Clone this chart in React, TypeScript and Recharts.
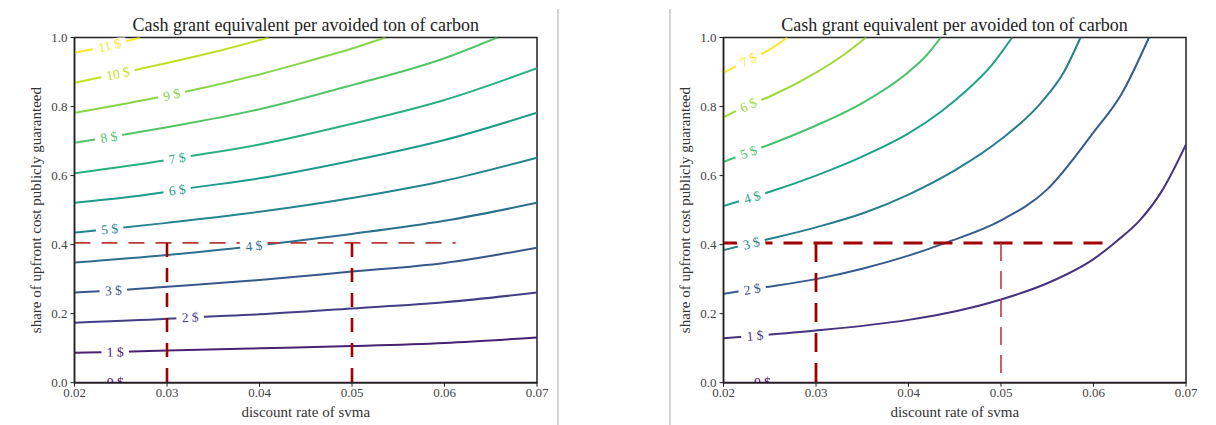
import { LineChart, Line, XAxis, YAxis, ReferenceArea } from 'recharts'

// axes
const xTicks = [0.02, 0.03, 0.04, 0.05, 0.06, 0.07]
const yTicks = [0, 0.2, 0.4, 0.6, 0.8, 1]

// left panel: contour levels 0..11 $, points are [discount rate, share guaranteed]
const left0 = [[0.02, 0], [0.0244, 0], [0.07, 0]]
const left1 = [[0.02, 0.087], [0.0244, 0.089], [0.03, 0.093], [0.04, 0.0995], [0.05, 0.106], [0.06, 0.115], [0.07, 0.131]]
const left2 = [[0.02, 0.174], [0.03, 0.185], [0.0325, 0.189], [0.04, 0.198], [0.05, 0.215], [0.06, 0.233], [0.07, 0.261]]
const left3 = [[0.02, 0.261], [0.0242, 0.267], [0.03, 0.278], [0.04, 0.2975], [0.05, 0.322], [0.06, 0.347], [0.07, 0.391]]
const left4 = [[0.02, 0.348], [0.03, 0.37], [0.0394, 0.396], [0.04, 0.398], [0.05, 0.431], [0.06, 0.469], [0.07, 0.521]]
const left5 = [[0.02, 0.435], [0.0238, 0.445], [0.03, 0.463], [0.04, 0.495], [0.05, 0.535], [0.06, 0.585], [0.07, 0.652]]
const left6 = [[0.02, 0.521], [0.03, 0.553], [0.0311, 0.558], [0.04, 0.592], [0.05, 0.643], [0.06, 0.703], [0.07, 0.782]]
const left7 = [[0.02, 0.607], [0.03, 0.645], [0.0311, 0.65], [0.04, 0.69], [0.05, 0.75], [0.06, 0.819], [0.07, 0.911]]
const left8 = [[0.02, 0.695], [0.0237, 0.711], [0.03, 0.74], [0.04, 0.792], [0.05, 0.862], [0.06, 0.94], [0.0657, 1]]
const left9 = [[0.02, 0.782], [0.025, 0.806], [0.0305, 0.834], [0.04, 0.893], [0.0444, 0.925], [0.05, 0.968], [0.0536, 1]]
const left10 = [[0.02, 0.869], [0.0247, 0.895], [0.03, 0.926], [0.035, 0.957], [0.041, 1]]
const left11 = [[0.02, 0.956], [0.0238, 0.977], [0.0271, 1]]
const leftLabelX = [0.0244, 0.0244, 0.0325, 0.0242, 0.0394, 0.0238, 0.0311, 0.0311, 0.0237, 0.0305, 0.0247, 0.0238]

// right panel: contour levels 0..7 $
const right0 = [[0.02, 0], [0.0242, 0], [0.07, 0]]
const right1 = [[0.02, 0.129], [0.0234, 0.136], [0.03, 0.151], [0.04, 0.182], [0.0435, 0.198], [0.05, 0.241], [0.055, 0.288], [0.06, 0.358], [0.0625, 0.41], [0.065, 0.47], [0.0675, 0.56], [0.07, 0.69]]
const right2 = [[0.02, 0.257], [0.0231, 0.271], [0.03, 0.3], [0.035, 0.33], [0.04, 0.368], [0.044, 0.405], [0.05, 0.47], [0.055, 0.56], [0.06, 0.725], [0.063, 0.835], [0.066, 1]]
const right3 = [[0.02, 0.384], [0.023, 0.404], [0.03, 0.45], [0.035, 0.49], [0.04, 0.545], [0.045, 0.615], [0.05, 0.705], [0.0543, 0.81], [0.0568, 0.9], [0.0586, 1]]
const right4 = [[0.02, 0.512], [0.0231, 0.537], [0.025, 0.553], [0.03, 0.6], [0.035, 0.655], [0.04, 0.722], [0.0435, 0.785], [0.0462, 0.845], [0.049, 0.92], [0.0512, 1]]
const right5 = [[0.02, 0.64], [0.0227, 0.667], [0.025, 0.69], [0.03, 0.745], [0.035, 0.81], [0.04, 0.9], [0.042, 0.95], [0.0435, 1]]
const right6 = [[0.02, 0.769], [0.0227, 0.804], [0.025, 0.829], [0.03, 0.898], [0.033, 0.95], [0.0354, 1]]
const right7 = [[0.02, 0.898], [0.0227, 0.935], [0.025, 0.965], [0.0269, 1]]
const rightLabelX = [0.0242, 0.0234, 0.0231, 0.023, 0.0231, 0.0227, 0.0227, 0.0227]

// the dashed guide: share 0.405, rates 0.03 and 0.05
const guideShare = 0.405
const guideStart = 0.02
const guideEnd = 0.0612
const guideRates = [0.03, 0.05]

const leftColors = ['#440154', '#482173', '#433e85', '#38588c', '#2d708e', '#25858e', '#1e9b8a', '#2ab07f', '#52c569', '#86d549', '#c2df23', '#fde725']
const rightColors = ['#440154', '#46327e', '#365c8d', '#277f8e', '#1fa187', '#4ac16d', '#a0da39', '#fde725']

const FONT = '"Liberation Serif", "DejaVu Serif", serif'
const W = 560
const H = 425

const toPts = (arr: number[][]) => arr.map(([x, y]) => ({ x, y }))

type GuideStyle = { stroke: string; width: number; dash: string }

const labelDot = (labelX: number, level: number, color: string) => (props: any) => {
    const { cx, cy, payload, points, index } = props
    if (payload.x !== labelX || cx == null) return <g key={`d-${index}`} />
    const text = `${level} $`
    const style = { fontFamily: FONT, fontSize: 13.5 }
    if (level === 0) {
        // sits on the bottom spine, only the top half shows
        return (
            <svg key={`d-${index}`} x={cx - 20} y={cy - 14} width={40} height={14} overflow="hidden">
                <text x={20} y={13} textAnchor="middle" dominantBaseline="central" style={style} fill={color}>
                    {text}
                </text>
            </svg>
        )
    }
    const a = (points && points[index - 1]) || { x: cx, y: cy }
    const b = (points && points[index + 1]) || { x: cx, y: cy }
    const angle = (Math.atan2(b.y - a.y, b.x - a.x) * 180) / Math.PI
    const w = text.length * 6.5 + 8
    return (
        <g key={`d-${index}`} transform={`translate(${cx},${cy}) rotate(${angle})`}>
            <rect x={-w / 2} y={-6} width={w} height={12} fill="#fff" />
            <text x={0} y={0} textAnchor="middle" dominantBaseline="central" style={style} fill={color}>
                {text}
            </text>
        </g>
    )
}

const yTitle = (p: any) => {
    const vb = p.viewBox || {}
    const cx = (vb.x ?? 14.5) + 21.5
    const cy = (vb.y ?? 37.5) + (vb.height ?? 345) / 2
    return (
        <text
            x={cx}
            y={cy}
            transform={`rotate(-90 ${cx} ${cy})`}
            textAnchor="middle"
            dominantBaseline="central"
            style={{ fontFamily: FONT, fontSize: 15 }}
            fill="#333"
        >
            share of upfront cost publicly guaranteed
        </text>
    )
}

type PanelProps = {
    left: number
    contours: number[][][]
    labelX: number[]
    colors: string[]
    hGuide: GuideStyle
    vGuides: GuideStyle[]
}

const Panel = ({ left, contours, labelX, colors, hGuide, vGuides }: PanelProps) => {
    const tick = { fill: '#444', fontSize: 13, style: { fontFamily: FONT } }
    return (
        <div style={{ position: 'absolute', left, top: 0, width: W, height: H, fontFamily: FONT }}>
            <div
                style={{
                    position: 'absolute', left: 74.5, top: 15, width: 462.5, textAlign: 'center',
                    fontSize: 18, lineHeight: '20px', color: '#222', whiteSpace: 'nowrap',
                }}
            >
                Cash grant equivalent per avoided ton of carbon
            </div>
            <LineChart width={W} height={H} margin={{ top: 37.5, right: 23, bottom: 12.3, left: 14.5 }} style={{ fontFamily: FONT }}>
                <XAxis
                    type="number"
                    dataKey="x"
                    domain={[0.02, 0.07]}
                    ticks={xTicks}
                    interval={0}
                    allowDataOverflow
                    height={30}
                    tickSize={4}
                    tickMargin={1}
                    tickFormatter={(v: number) => v.toFixed(2)}
                    tick={tick}
                    tickLine={{ stroke: '#222' }}
                    axisLine={{ stroke: '#222', strokeWidth: 1.5 }}
                    label={{ value: 'discount rate of svma', position: 'insideBottom', offset: -4, fill: '#333', fontSize: 15, style: { fontFamily: FONT } }}
                />
                <YAxis
                    type="number"
                    domain={[0, 1]}
                    ticks={yTicks}
                    interval={0}
                    allowDataOverflow
                    width={60}
                    tickSize={4}
                    tickMargin={3}
                    tickFormatter={(v: number) => v.toFixed(1)}
                    tick={tick}
                    tickLine={{ stroke: '#222' }}
                    axisLine={{ stroke: '#222', strokeWidth: 1.5 }}
                    label={yTitle}
                />
                <ReferenceArea x1={0.02} x2={0.07} y1={0} y2={1} fill="none" fillOpacity={0} stroke="#222" strokeWidth={1.5} />
                {contours.map((c, i) => (
                    <Line
                        key={`c-${i}`}
                        data={toPts(c)}
                        dataKey="y"
                        type="monotone"
                        stroke={colors[i]}
                        strokeWidth={2}
                        dot={labelDot(labelX[i], i, colors[i])}
                        activeDot={false}
                        isAnimationActive={false}
                    />
                ))}
                <Line
                    data={[{ x: guideStart, y: guideShare }, { x: guideEnd, y: guideShare }]}
                    dataKey="y"
                    type="linear"
                    stroke={hGuide.stroke}
                    strokeWidth={hGuide.width}
                    strokeDasharray={hGuide.dash}
                    dot={false}
                    activeDot={false}
                    isAnimationActive={false}
                />
                {guideRates.map((r, i) => (
                    <Line
                        key={`v-${i}`}
                        data={[{ x: r, y: guideShare }, { x: r, y: 0 }]}
                        dataKey="y"
                        type="linear"
                        stroke={vGuides[i].stroke}
                        strokeWidth={vGuides[i].width}
                        strokeDasharray={vGuides[i].dash}
                        dot={false}
                        activeDot={false}
                        isAnimationActive={false}
                    />
                ))}
            </LineChart>
        </div>
    )
}

const DARK = '#a00000'
const LIGHT = '#b83a3a'

const App = () => {
    return (
        <div style={{ position: 'absolute', left: 0, top: 0, width: 1216, height: H, background: '#fff', overflow: 'hidden' }}>
            <Panel
                left={0}
                contours={[left0, left1, left2, left3, left4, left5, left6, left7, left8, left9, left10, left11]}
                labelX={leftLabelX}
                colors={leftColors}
                hGuide={{ stroke: LIGHT, width: 1.6, dash: '16 11' }}
                vGuides={[
                    { stroke: DARK, width: 2.6, dash: '14 11' },
                    { stroke: DARK, width: 2.6, dash: '14 11' },
                ]}
            />
            <Panel
                left={648.8}
                contours={[right0, right1, right2, right3, right4, right5, right6, right7]}
                labelX={rightLabelX}
                colors={rightColors}
                hGuide={{ stroke: DARK, width: 3, dash: '19 11' }}
                vGuides={[
                    { stroke: DARK, width: 2.8, dash: '19 11' },
                    { stroke: LIGHT, width: 1.6, dash: '18 10' },
                ]}
            />
            <div style={{ position: 'absolute', left: 557, top: 9, width: 1.5, height: 416, background: '#d4d4d4' }} />
            <div style={{ position: 'absolute', left: 669, top: 9, width: 1.5, height: 416, background: '#d4d4d4' }} />
        </div>
    )
}

export default App
